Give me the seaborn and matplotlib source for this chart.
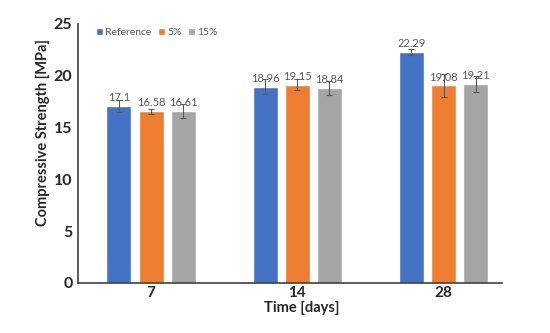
import pandas as pd
import seaborn as sns
import matplotlib.pyplot as plt

# Données
days = ["7", "14", "28"]
groups = ["Reference", "5%", "15%"]
ref_vals = [17.1, 18.96, 22.29]
p5_vals = [16.58, 19.15, 19.08]
p15_vals = [16.61, 18.84, 19.21]
ref_err = [0.6, 0.7, 0.3]
p5_err = [0.25, 0.5, 1.1]
p15_err = [0.65, 0.65, 0.8]
colors = ["#4472C4", "#ED7D31", "#A5A5A5"]

df = pd.DataFrame({
    "day": days * 3,
    "group": [g for g in groups for _ in days],
    "value": ref_vals + p5_vals + p15_vals,
})
errs = [ref_err, p5_err, p15_err]
vals = [ref_vals, p5_vals, p15_vals]

sns.set_style("white")
plt.rcParams["font.family"] = ["Lato", "DejaVu Sans"]

fig = plt.figure(figsize=(5.5, 3.33), dpi=100)
ax = fig.add_axes([0.1418, 0.1502, 0.7709, 0.7778])

sns.barplot(data=df, x="day", y="value", hue="group", order=days,
            hue_order=groups, palette=colors, width=0.66, gap=0.22,
            errorbar=None, ax=ax, saturation=1)

for cont, e, v in zip(ax.containers, errs, vals):
    xs = [p.get_x() + p.get_width() / 2 for p in cont.patches]
    ax.errorbar(xs, v, yerr=e, fmt="none", ecolor="#595959",
                elinewidth=0.8, capsize=2, capthick=0.8)
    ax.bar_label(cont, labels=[f"{x:g}" for x in v], padding=2,
                 fontsize=8, color="#595959")

ax.set_ylim(0, 25)
ax.set_xlim(-0.5, 2.4)
ax.set_yticks(range(0, 26, 5))
ax.tick_params(axis="y", length=3, width=1, color="#404040", labelsize=11.5, pad=1)
ax.tick_params(axis="x", length=0, labelsize=11, pad=2)
for lab in ax.get_xticklabels() + ax.get_yticklabels():
    lab.set_fontweight("bold")
ax.set_xlabel("Time [days]", fontsize=10.5, fontweight="bold")
ax.xaxis.set_label_coords(0.528, -0.07)
ax.set_ylabel("Compressive Strength [MPa]", fontsize=10.5, fontweight="bold")
ax.yaxis.set_label_coords(-0.065, 0.58)

sns.despine(ax=ax)
for s in ["left", "bottom"]:
    ax.spines[s].set_color("#404040")
    ax.spines[s].set_linewidth(1.2)

ax.legend(loc="upper left", bbox_to_anchor=(0.02, 1.02), ncol=3, frameon=False,
          fontsize=7.5, handlelength=0.7, handleheight=0.7, handletextpad=0.2,
          columnspacing=0.6, labelcolor="#595959")

fig.savefig("out.png", dpi=100)
